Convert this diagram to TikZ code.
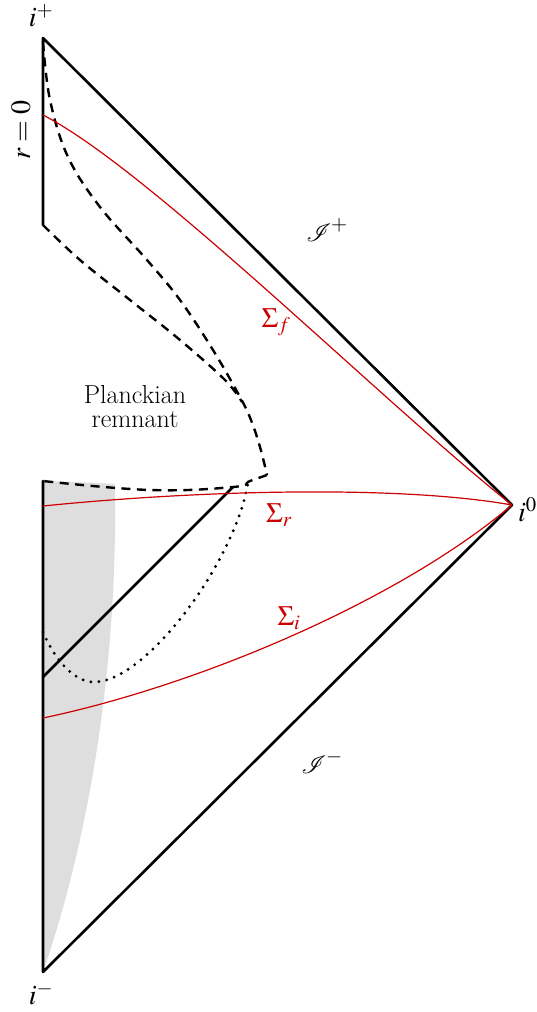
\documentclass[tikz,border=0pt]{standalone}
\usepackage{mathptmx}
\usepackage{mathrsfs}
\tikzset{
  thick line/.style={line width=2.6pt, line cap=round, line join=round},
  dash line/.style={line width=2.4pt, dash pattern=on 9pt off 6.5pt},
  dot line/.style={line width=3.2pt, line cap=round, dash pattern=on 0pt off 8pt},
  red line/.style={draw={rgb,255:red,204;green,0;blue,0}, line width=1.2pt},
  lab/.style={font=\fontsize{28}{32}\selectfont, inner sep=0pt},
  redlab/.style={lab, text={rgb,255:red,204;green,0;blue,0}},
}
\begin{document}
\begin{tikzpicture}[x=1pt,y=-1pt]
\useasboundingbox (0,0) rectangle (537,1012);
\coordinate (ip) at (43,38);
\coordinate (io) at (512,505);
\coordinate (im) at (43,972);
\coordinate (rz) at (43,225);
\coordinate (bt) at (43,481);
\coordinate (cn) at (267,475);
\coordinate (hz) at (43,677);
\coordinate (ht) at (233,487);
\coordinate (dm) at (97,682);
% gray region
\fill[black!13] (bt) .. controls (80,482) and (100,483) .. (115,484)
  .. controls (118,680) and (85,850) .. (im) -- cycle;
% boundaries
\draw[thick line] (rz) -- (ip) -- (io) -- (im) -- (bt);
% dashed
\draw[dash line] plot[smooth, tension=0.6] coordinates {(43,42) (50,100) (68,157) (100,207) (147,260) (180,300) (213,350) (240,397) (251,420) (260,447) (267,475)};
\draw[dash line] plot[smooth, tension=0.6] coordinates {(rz) (80,260) (130,300) (180,340) (225,380) (242,402)};
\draw[dash line] plot[smooth, tension=0.7] coordinates {(cn) (250,481) (233,487) (150,490) (bt)};
% solid diagonal
\draw[thick line] (hz) -- (ht);
% dotted
\draw[dot line] (43,632) .. controls (55,660) and (75,684) .. (dm)
  .. controls (150,677) and (235,560) .. (248,483);
% red slices
\draw[red line] (43,115) .. controls (150,170) and (380,400) .. (io);
\draw[red line] (43,506) .. controls (200,490) and (400,485) .. (io);
\draw[red line] (43,718) .. controls (200,685) and (400,600) .. (io);
% labels
\node[lab] (lip) at (41,16) {$i^+$};
\node[lab] (lim) at (41,994) {$i^-$};
\node[lab, anchor=west] (lio) at (518,510) {$i^0$};
\node[lab, rotate=90] (lr) at (21,130) {$r=0$};
\node[lab] (lsp) at (327,230) {$\mathscr{I}^+$};
\node[lab] (lsm) at (322,762) {$\mathscr{I}^-$};
\node[redlab] (lsf) at (276,322) {$\Sigma_f$};
\node[redlab] (lsr) at (279,515) {$\Sigma_r$};
\node[redlab] (lsi) at (289,618) {$\Sigma_i$};
\node[inner sep=0pt, align=center, font=\fontsize{26}{24}\selectfont] (pr) at (135,407) {Planckian\\remnant};
\end{tikzpicture}
\end{document}
